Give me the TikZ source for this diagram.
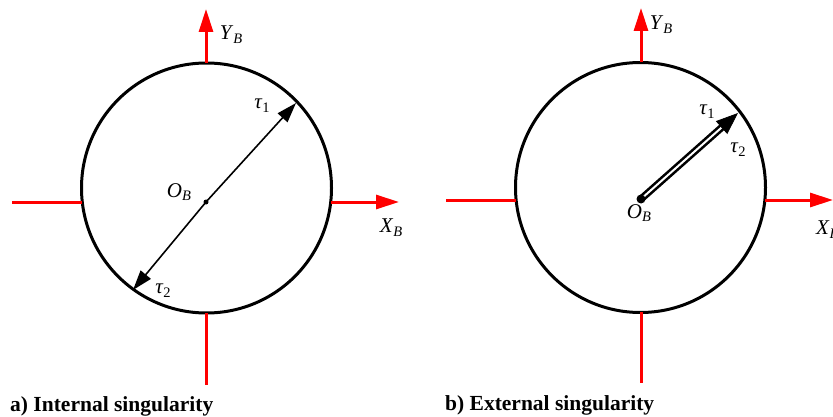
\documentclass[tikz,border=0pt]{standalone}
\usepackage{fontspec}
\setmainfont{Liberation Serif}
\usetikzlibrary{arrows.meta,calc}
\newcommand\labsub[2]{#1\raisebox{-0.4ex}{\fontsize{14.5}{14.5}\selectfont #2}}
\begin{document}
\begin{tikzpicture}[x=1pt,y=-1pt,
  circ/.style={draw=black, line width=3pt},
  axisline/.style={draw=red, line width=3pt},
  axisarrow/.style={axisline, -{Triangle[width=14pt,length=23pt]}},
  vec/.style={draw=black, line width=1.6pt, -{Triangle[width=13pt,length=20pt]}},
  lbl/.style={inner sep=0pt, font=\fontsize{21}{21}\selectfont},
  captext/.style={inner sep=0pt, anchor=west, font=\fontsize{21.5}{24}\selectfont\bfseries}]
\useasboundingbox (0,0) rectangle (833,417);
\clip (0,0) rectangle (833,417);
% ---------- left panel ----------
\coordinate (cA) at (206.5,188);
\coordinate (OA) at (206,202);
\coordinate (AtopS) at (206,63);   \coordinate (AtopE) at (206,9);
\coordinate (ArS) at (331,202);    \coordinate (ArE) at (399,202);
\coordinate (AlS) at (12,202);     \coordinate (AlE) at (82,202);
\coordinate (AbS) at (206,313);    \coordinate (AbE) at (206,385);
\coordinate (T1A) at (296,103);
\coordinate (T2A) at (133,290);
\draw[circ] (cA) circle (125pt);
\draw[axisarrow] (AtopS) -- (AtopE);
\draw[axisarrow] (ArS) -- (ArE);
\draw[axisline] (AlS) -- (AlE);
\draw[axisline] (AbS) -- (AbE);
\draw[vec] (OA) -- (T1A);
\draw[vec] (OA) -- (T2A);
\fill (OA) circle (2.5pt);
\node[lbl] (YA) at (231,35) {\labsub{\textit{Y}}{\textit{B}}};
\node[lbl] (XA) at (391,228) {\labsub{\textit{X}}{\textit{B}}};
\node[lbl] (OAl) at (179,192) {\labsub{\textit{O}}{\textit{B}}};
\node[lbl] (t1A) at (262,106) {\labsub{\textit{τ}}{1}};
\node[lbl] (t2A) at (163,291) {\labsub{\textit{τ}}{2}};
\node[captext] (capA) at (10,406) {a) Internal singularity};
% ---------- right panel ----------
\coordinate (cB) at (640.5,187.5);
\coordinate (OB) at (641,199);
\coordinate (BtopS) at (641,62.5); \coordinate (BtopE) at (641,8);
\coordinate (BrS) at (765,200);    \coordinate (BrE) at (833,200);
\coordinate (BlS) at (446,200);    \coordinate (BlE) at (516,200);
\coordinate (BbS) at (641,312);    \coordinate (BbE) at (641,383);
\coordinate (TB) at (738,113);
\coordinate (TBbase) at ($(OB)!0.84!(TB)$);
\draw[circ] (cB) circle (125pt);
\draw[axisarrow] (BtopS) -- (BtopE);
\draw[axisarrow] (BrS) -- (BrE);
\draw[axisline] (BlS) -- (BlE);
\draw[axisline] (BbS) -- (BbE);
\draw[line width=2.6pt, double=white, double distance=2pt] (OB) -- (TBbase);
\draw[draw=black, line width=0.8pt, -{Triangle[width=17pt,length=22pt]}] (TBbase) -- (TB);
\fill (OB) circle (4.5pt);
\node[lbl] (YB) at (661,25) {\labsub{\textit{Y}}{\textit{B}}};
\node[lbl, anchor=west] (XB) at (816,230) {\labsub{\textit{X}}{\textit{B}}};
\node[lbl] (OBl) at (639,213) {\labsub{\textit{O}}{\textit{B}}};
\node[lbl] (t1B) at (707,112) {\labsub{\textit{τ}}{1}};
\node[lbl] (t2B) at (738,150) {\labsub{\textit{τ}}{2}};
\node[captext] (capB) at (445,405) {b) External singularity};
\end{tikzpicture}
\end{document}
